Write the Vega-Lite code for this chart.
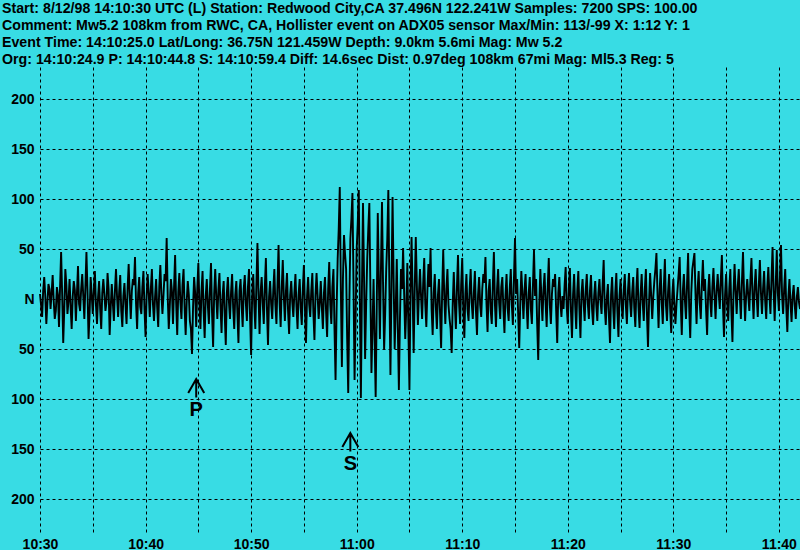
{
  "$schema": "https://vega.github.io/schema/vega-lite/v6.json",
  "autosize": "none",
  "width": 760,
  "height": 466,
  "padding": {"left": 40, "top": 67, "right": 0, "bottom": 17},
  "background": "#38DCE4",
  "view": {"stroke": null, "fill": "#38DCE4"},
  "title": {
    "text": [
      "Start: 8/12/98 14:10:30 UTC (L) Station: Redwood City,CA 37.496N 122.241W Samples: 7200  SPS: 100.00",
      "Comment: Mw5.2 108km from RWC, CA, Hollister event on ADX05 sensor  Max/Min: 113/-99 X: 1:12 Y: 1",
      "Event Time: 14:10:25.0 Lat/Long: 36.75N 121.459W Depth: 9.0km 5.6mi Mag: Mw 5.2",
      "Org: 14:10:24.9 P: 14:10:44.8 S: 14:10:59.4 Diff: 14.6sec Dist: 0.97deg 108km 67mi  Mag: Ml5.3 Reg: 5"
    ],
    "anchor": "start",
    "frame": "group",
    "dx": -38,
    "offset": 0,
    "font": "Liberation Sans",
    "fontSize": 14.2,
    "fontWeight": "bold",
    "lineHeight": 17,
    "color": "black"
  },
  "config": {
    "axis": {
      "grid": true,
      "gridColor": "black",
      "gridDash": [3, 3],
      "gridWidth": 1,
      "gridOpacity": 1,
      "domain": false,
      "ticks": false,
      "title": null,
      "labelFont": "Liberation Sans",
      "labelFontSize": 14,
      "labelFontWeight": "bold",
      "labelColor": "black",
      "labelOverlap": false,
      "labelFlush": false
    }
  },
  "datasets": {
    "trace": [
{"t":0,"v":5},{"t":0.1,"v":-6},{"t":0.2,"v":-18},{"t":0.3,"v":8},{"t":0.4,"v":22},{"t":0.5,"v":3},{"t":0.6,"v":-25},{"t":0.7,"v":-4},{"t":0.8,"v":15},{"t":0.9,"v":10},
{"t":1,"v":-10},{"t":1.1,"v":6},{"t":1.2,"v":24},{"t":1.3,"v":-2},{"t":1.4,"v":-20},{"t":1.5,"v":-12},{"t":1.6,"v":12},{"t":1.7,"v":4},{"t":1.8,"v":-28},{"t":1.9,"v":12},
{"t":2,"v":47},{"t":2.1,"v":5},{"t":2.2,"v":-44},{"t":2.3,"v":-10},{"t":2.4,"v":30},{"t":2.5,"v":14},{"t":2.6,"v":-15},{"t":2.7,"v":-2},{"t":2.8,"v":20},{"t":2.9,"v":-8},
{"t":3,"v":-30},{"t":3.1,"v":2},{"t":3.2,"v":18},{"t":3.3,"v":9},{"t":3.4,"v":-22},{"t":3.5,"v":6},{"t":3.6,"v":33},{"t":3.7,"v":-5},{"t":3.8,"v":-12},{"t":3.9,"v":10},
{"t":4,"v":25},{"t":4.1,"v":3},{"t":4.2,"v":-20},{"t":4.3,"v":12},{"t":4.4,"v":47},{"t":4.5,"v":8},{"t":4.6,"v":-40},{"t":4.7,"v":-14},{"t":4.8,"v":22},{"t":4.9,"v":4},
{"t":5,"v":-15},{"t":5.1,"v":8},{"t":5.2,"v":28},{"t":5.3,"v":-6},{"t":5.4,"v":-25},{"t":5.5,"v":2},{"t":5.6,"v":18},{"t":5.7,"v":-10},{"t":5.8,"v":-30},{"t":5.9,"v":6},
{"t":6,"v":20},{"t":6.1,"v":5},{"t":6.2,"v":-12},{"t":6.3,"v":-3},{"t":6.4,"v":26},{"t":6.5,"v":10},{"t":6.6,"v":-36},{"t":6.7,"v":-8},{"t":6.8,"v":15},{"t":6.9,"v":-4},
{"t":7,"v":-22},{"t":7.1,"v":9},{"t":7.2,"v":30},{"t":7.3,"v":2},{"t":7.4,"v":-18},{"t":7.5,"v":7},{"t":7.6,"v":24},{"t":7.7,"v":-12},{"t":7.8,"v":-28},{"t":7.9,"v":3},
{"t":8,"v":16},{"t":8.1,"v":-6},{"t":8.2,"v":-25},{"t":8.3,"v":11},{"t":8.4,"v":35},{"t":8.5,"v":4},{"t":8.6,"v":-20},{"t":8.7,"v":8},{"t":8.8,"v":20},{"t":8.9,"v":14},
{"t":9,"v":42},{"t":9.1,"v":-5},{"t":9.2,"v":-30},{"t":9.3,"v":6},{"t":9.4,"v":22},{"t":9.5,"v":-8},{"t":9.6,"v":-15},{"t":9.7,"v":12},{"t":9.8,"v":28},{"t":9.9,"v":-10},
{"t":10,"v":-38},{"t":10.1,"v":3},{"t":10.2,"v":25},{"t":10.3,"v":6},{"t":10.4,"v":-18},{"t":10.5,"v":10},{"t":10.6,"v":30},{"t":10.7,"v":-5},{"t":10.8,"v":-22},{"t":10.9,"v":2},
{"t":11,"v":20},{"t":11.1,"v":-8},{"t":11.2,"v":-28},{"t":11.3,"v":12},{"t":11.4,"v":34},{"t":11.5,"v":5},{"t":11.6,"v":-15},{"t":11.7,"v":4},{"t":11.8,"v":25},{"t":11.9,"v":18},
{"t":12,"v":61},{"t":12.1,"v":2},{"t":12.2,"v":-30},{"t":12.3,"v":-6},{"t":12.4,"v":20},{"t":12.5,"v":8},{"t":12.6,"v":-25},{"t":12.7,"v":12},{"t":12.8,"v":44},{"t":12.9,"v":-4},
{"t":13,"v":-36},{"t":13.1,"v":7},{"t":13.2,"v":26},{"t":13.3,"v":-3},{"t":13.4,"v":-20},{"t":13.5,"v":14},{"t":13.6,"v":30},{"t":13.7,"v":-9},{"t":13.8,"v":-36},{"t":13.9,"v":-2},
{"t":14,"v":18},{"t":14.1,"v":4},{"t":14.2,"v":-22},{"t":14.3,"v":-30},{"t":14.4,"v":-55},{"t":14.5,"v":-8},{"t":14.6,"v":22},{"t":14.7,"v":6},{"t":14.8,"v":-28},{"t":14.9,"v":10},
{"t":15,"v":36},{"t":15.1,"v":-4},{"t":15.2,"v":-30},{"t":15.3,"v":8},{"t":15.4,"v":28},{"t":15.5,"v":-12},{"t":15.6,"v":-39},{"t":15.7,"v":3},{"t":15.8,"v":20},{"t":15.9,"v":-6},
{"t":16,"v":-25},{"t":16.1,"v":10},{"t":16.2,"v":36},{"t":16.3,"v":-14},{"t":16.4,"v":-48},{"t":16.5,"v":5},{"t":16.6,"v":30},{"t":16.7,"v":2},{"t":16.8,"v":-20},{"t":16.9,"v":9},
{"t":17,"v":26},{"t":17.1,"v":-8},{"t":17.2,"v":-34},{"t":17.3,"v":4},{"t":17.4,"v":18},{"t":17.5,"v":-16},{"t":17.6,"v":-46},{"t":17.7,"v":6},{"t":17.8,"v":22},{"t":17.9,"v":-3},
{"t":18,"v":-20},{"t":18.1,"v":7},{"t":18.2,"v":25},{"t":18.3,"v":-9},{"t":18.4,"v":-30},{"t":18.5,"v":4},{"t":18.6,"v":18},{"t":18.7,"v":-14},{"t":18.8,"v":-44},{"t":18.9,"v":8},
{"t":19,"v":20},{"t":19.1,"v":-6},{"t":19.2,"v":-28},{"t":19.3,"v":10},{"t":19.4,"v":24},{"t":19.5,"v":-4},{"t":19.6,"v":-22},{"t":19.7,"v":12},{"t":19.8,"v":30},{"t":19.9,"v":-18},
{"t":20,"v":-56},{"t":20.1,"v":3},{"t":20.2,"v":25},{"t":20.3,"v":-6},{"t":20.4,"v":-30},{"t":20.5,"v":14},{"t":20.6,"v":56},{"t":20.7,"v":5},{"t":20.8,"v":-35},{"t":20.9,"v":7},
{"t":21,"v":22},{"t":21.1,"v":-4},{"t":21.2,"v":-25},{"t":21.3,"v":12},{"t":21.4,"v":41},{"t":21.5,"v":-10},{"t":21.6,"v":-46},{"t":21.7,"v":2},{"t":21.8,"v":18},{"t":21.9,"v":-5},
{"t":22,"v":-20},{"t":22.1,"v":9},{"t":22.2,"v":30},{"t":22.3,"v":-6},{"t":22.4,"v":-25},{"t":22.5,"v":15},{"t":22.6,"v":54},{"t":22.7,"v":-4},{"t":22.8,"v":-28},{"t":22.9,"v":11},
{"t":23,"v":39},{"t":23.1,"v":2},{"t":23.2,"v":-22},{"t":23.3,"v":8},{"t":23.4,"v":26},{"t":23.5,"v":-12},{"t":23.6,"v":-35},{"t":23.7,"v":4},{"t":23.8,"v":18},{"t":23.9,"v":-3},
{"t":24,"v":-18},{"t":24.1,"v":6},{"t":24.2,"v":25},{"t":24.3,"v":-8},{"t":24.4,"v":-30},{"t":24.5,"v":5},{"t":24.6,"v":20},{"t":24.7,"v":-9},{"t":24.8,"v":-26},{"t":24.9,"v":10},
{"t":25,"v":34},{"t":25.1,"v":-10},{"t":25.2,"v":-44},{"t":25.3,"v":3},{"t":25.4,"v":22},{"t":25.5,"v":-5},{"t":25.6,"v":-18},{"t":25.7,"v":8},{"t":25.8,"v":26},{"t":25.9,"v":-14},
{"t":26,"v":-41},{"t":26.1,"v":4},{"t":26.2,"v":26},{"t":26.3,"v":3},{"t":26.4,"v":-20},{"t":26.5,"v":-4},{"t":26.6,"v":18},{"t":26.7,"v":-8},{"t":26.8,"v":-30},{"t":26.9,"v":6},
{"t":27,"v":22},{"t":27.1,"v":-12},{"t":27.2,"v":-38},{"t":27.3,"v":10},{"t":27.4,"v":37},{"t":27.5,"v":-6},{"t":27.6,"v":-25},{"t":27.7,"v":12},{"t":27.8,"v":30},{"t":27.9,"v":-30},
{"t":28,"v":-81},{"t":28.1,"v":-10},{"t":28.2,"v":40},{"t":28.3,"v":70},{"t":28.4,"v":112},{"t":28.5,"v":10},{"t":28.6,"v":-68},{"t":28.7,"v":20},{"t":28.8,"v":64},{"t":28.9,"v":45},
{"t":29,"v":30},{"t":29.1,"v":-40},{"t":29.2,"v":-94},{"t":29.3,"v":-10},{"t":29.4,"v":60},{"t":29.5,"v":80},{"t":29.6,"v":106},{"t":29.7,"v":15},{"t":29.8,"v":-81},{"t":29.9,"v":-20},
{"t":30,"v":50},{"t":30.1,"v":75},{"t":30.2,"v":109},{"t":30.3,"v":0},{"t":30.4,"v":-99},{"t":30.5,"v":10},{"t":30.6,"v":96},{"t":30.7,"v":20},{"t":30.8,"v":-60},{"t":30.9,"v":-5},
{"t":31,"v":40},{"t":31.1,"v":70},{"t":31.2,"v":96},{"t":31.3,"v":10},{"t":31.4,"v":-74},{"t":31.5,"v":-30},{"t":31.6,"v":20},{"t":31.7,"v":-40},{"t":31.8,"v":-98},{"t":31.9,"v":-10},
{"t":32,"v":86},{"t":32.1,"v":20},{"t":32.2,"v":-40},{"t":32.3,"v":30},{"t":32.4,"v":97},{"t":32.5,"v":15},{"t":32.6,"v":-51},{"t":32.7,"v":-15},{"t":32.8,"v":30},{"t":32.9,"v":60},
{"t":33,"v":109},{"t":33.1,"v":10},{"t":33.2,"v":-76},{"t":33.3,"v":15},{"t":33.4,"v":102},{"t":33.5,"v":20},{"t":33.6,"v":-50},{"t":33.7,"v":-10},{"t":33.8,"v":40},{"t":33.9,"v":-30},
{"t":34,"v":-91},{"t":34.1,"v":-20},{"t":34.2,"v":30},{"t":34.3,"v":10},{"t":34.4,"v":51},{"t":34.5,"v":5},{"t":34.6,"v":-40},{"t":34.7,"v":-10},{"t":34.8,"v":36},{"t":34.9,"v":-30},
{"t":35,"v":-91},{"t":35.1,"v":10},{"t":35.2,"v":62},{"t":35.3,"v":5},{"t":35.4,"v":-54},{"t":35.5,"v":10},{"t":35.6,"v":62},{"t":35.7,"v":15},{"t":35.8,"v":-26},{"t":35.9,"v":5},
{"t":36,"v":30},{"t":36.1,"v":2},{"t":36.2,"v":-20},{"t":36.3,"v":15},{"t":36.4,"v":41},{"t":36.5,"v":-5},{"t":36.6,"v":-28},{"t":36.7,"v":8},{"t":36.8,"v":35},{"t":36.9,"v":12},
{"t":37,"v":51},{"t":37.1,"v":-10},{"t":37.2,"v":-36},{"t":37.3,"v":6},{"t":37.4,"v":25},{"t":37.5,"v":-8},{"t":37.6,"v":-30},{"t":37.7,"v":4},{"t":37.8,"v":20},{"t":37.9,"v":-15},
{"t":38,"v":-49},{"t":38.1,"v":8},{"t":38.2,"v":49},{"t":38.3,"v":3},{"t":38.4,"v":-25},{"t":38.5,"v":10},{"t":38.6,"v":30},{"t":38.7,"v":-6},{"t":38.8,"v":-20},{"t":38.9,"v":-30},
{"t":39,"v":-54},{"t":39.1,"v":-5},{"t":39.2,"v":27},{"t":39.3,"v":-6},{"t":39.4,"v":-30},{"t":39.5,"v":12},{"t":39.6,"v":44},{"t":39.7,"v":-4},{"t":39.8,"v":-25},{"t":39.9,"v":14},
{"t":40,"v":41},{"t":40.1,"v":-8},{"t":40.2,"v":-39},{"t":40.3,"v":5},{"t":40.4,"v":25},{"t":40.5,"v":-10},{"t":40.6,"v":-22},{"t":40.7,"v":9},{"t":40.8,"v":30},{"t":40.9,"v":-4},
{"t":41,"v":-20},{"t":41.1,"v":6},{"t":41.2,"v":28},{"t":41.3,"v":-12},{"t":41.4,"v":-36},{"t":41.5,"v":4},{"t":41.6,"v":22},{"t":41.7,"v":-6},{"t":41.8,"v":-18},{"t":41.9,"v":10},
{"t":42,"v":25},{"t":42.1,"v":16},{"t":42.2,"v":42},{"t":42.3,"v":-5},{"t":42.4,"v":-33},{"t":42.5,"v":8},{"t":42.6,"v":20},{"t":42.7,"v":-12},{"t":42.8,"v":-25},{"t":42.9,"v":14},
{"t":43,"v":47},{"t":43.1,"v":-6},{"t":43.2,"v":-28},{"t":43.3,"v":10},{"t":43.4,"v":30},{"t":43.5,"v":-4},{"t":43.6,"v":-20},{"t":43.7,"v":12},{"t":43.8,"v":22},{"t":43.9,"v":-10},
{"t":44,"v":-34},{"t":44.1,"v":4},{"t":44.2,"v":25},{"t":44.3,"v":-9},{"t":44.4,"v":-22},{"t":44.5,"v":10},{"t":44.6,"v":30},{"t":44.7,"v":-6},{"t":44.8,"v":-26},{"t":44.9,"v":20},
{"t":45,"v":61},{"t":45.1,"v":5},{"t":45.2,"v":20},{"t":45.3,"v":-15},{"t":45.4,"v":-49},{"t":45.5,"v":-4},{"t":45.6,"v":28},{"t":45.7,"v":6},{"t":45.8,"v":-20},{"t":45.9,"v":8},
{"t":46,"v":25},{"t":46.1,"v":-5},{"t":46.2,"v":-30},{"t":46.3,"v":6},{"t":46.4,"v":22},{"t":46.5,"v":-10},{"t":46.6,"v":-25},{"t":46.7,"v":14},{"t":46.8,"v":49},{"t":46.9,"v":3},
{"t":47,"v":20},{"t":47.1,"v":-25},{"t":47.2,"v":-61},{"t":47.3,"v":-5},{"t":47.4,"v":30},{"t":47.5,"v":2},{"t":47.6,"v":-22},{"t":47.7,"v":10},{"t":47.8,"v":26},{"t":47.9,"v":-4},
{"t":48,"v":-28},{"t":48.1,"v":12},{"t":48.2,"v":41},{"t":48.3,"v":-6},{"t":48.4,"v":-25},{"t":48.5,"v":5},{"t":48.6,"v":20},{"t":48.7,"v":12},{"t":48.8,"v":25},{"t":48.9,"v":-12},
{"t":49,"v":-44},{"t":49.1,"v":6},{"t":49.2,"v":22},{"t":49.3,"v":-4},{"t":49.4,"v":-18},{"t":49.5,"v":3},{"t":49.6,"v":-10},{"t":49.7,"v":14},{"t":49.8,"v":32},{"t":49.9,"v":-8},
{"t":50,"v":-25},{"t":50.1,"v":10},{"t":50.2,"v":31},{"t":50.3,"v":-12},{"t":50.4,"v":-39},{"t":50.5,"v":4},{"t":50.6,"v":25},{"t":50.7,"v":-6},{"t":50.8,"v":-30},{"t":50.9,"v":8},
{"t":51,"v":28},{"t":51.1,"v":-10},{"t":51.2,"v":-39},{"t":51.3,"v":5},{"t":51.4,"v":20},{"t":51.5,"v":-4},{"t":51.6,"v":-22},{"t":51.7,"v":9},{"t":51.8,"v":25},{"t":51.9,"v":-5},
{"t":52,"v":-20},{"t":52.1,"v":8},{"t":52.2,"v":24},{"t":52.3,"v":-10},{"t":52.4,"v":-26},{"t":52.5,"v":3},{"t":52.6,"v":18},{"t":52.7,"v":-6},{"t":52.8,"v":-22},{"t":52.9,"v":6},
{"t":53,"v":20},{"t":53.1,"v":-2},{"t":53.2,"v":-15},{"t":53.3,"v":14},{"t":53.4,"v":39},{"t":53.5,"v":-8},{"t":53.6,"v":-26},{"t":53.7,"v":2},{"t":53.8,"v":15},{"t":53.9,"v":-18},
{"t":54,"v":-44},{"t":54.1,"v":4},{"t":54.2,"v":22},{"t":54.3,"v":-8},{"t":54.4,"v":-30},{"t":54.5,"v":6},{"t":54.6,"v":26},{"t":54.7,"v":-12},{"t":54.8,"v":-38},{"t":54.9,"v":3},
{"t":55,"v":20},{"t":55.1,"v":-5},{"t":55.2,"v":-20},{"t":55.3,"v":9},{"t":55.4,"v":25},{"t":55.5,"v":-6},{"t":55.6,"v":-25},{"t":55.7,"v":8},{"t":55.8,"v":26},{"t":55.9,"v":-2},
{"t":56,"v":-18},{"t":56.1,"v":6},{"t":56.2,"v":22},{"t":56.3,"v":-9},{"t":56.4,"v":-28},{"t":56.5,"v":10},{"t":56.6,"v":31},{"t":56.7,"v":-8},{"t":56.8,"v":-29},{"t":56.9,"v":5},
{"t":57,"v":25},{"t":57.1,"v":-4},{"t":57.2,"v":-22},{"t":57.3,"v":10},{"t":57.4,"v":30},{"t":57.5,"v":-15},{"t":57.6,"v":-48},{"t":57.7,"v":-3},{"t":57.8,"v":26},{"t":57.9,"v":4},
{"t":58,"v":-20},{"t":58.1,"v":2},{"t":58.2,"v":18},{"t":58.3,"v":30},{"t":58.4,"v":46},{"t":58.5,"v":5},{"t":58.6,"v":-29},{"t":58.7,"v":8},{"t":58.8,"v":30},{"t":58.9,"v":-4},
{"t":59,"v":-25},{"t":59.1,"v":12},{"t":59.2,"v":40},{"t":59.3,"v":-6},{"t":59.4,"v":-22},{"t":59.5,"v":7},{"t":59.6,"v":25},{"t":59.7,"v":-10},{"t":59.8,"v":-34},{"t":59.9,"v":3},
{"t":60,"v":20},{"t":60.1,"v":-6},{"t":60.2,"v":-25},{"t":60.3,"v":-5},{"t":60.4,"v":10},{"t":60.5,"v":25},{"t":60.6,"v":42},{"t":60.7,"v":-4},{"t":60.8,"v":-36},{"t":60.9,"v":8},
{"t":61,"v":25},{"t":61.1,"v":-2},{"t":61.2,"v":-20},{"t":61.3,"v":16},{"t":61.4,"v":46},{"t":61.5,"v":-8},{"t":61.6,"v":-39},{"t":61.7,"v":6},{"t":61.8,"v":30},{"t":61.9,"v":38},
{"t":62,"v":46},{"t":62.1,"v":5},{"t":62.2,"v":-25},{"t":62.3,"v":10},{"t":62.4,"v":28},{"t":62.5,"v":-4},{"t":62.6,"v":-20},{"t":62.7,"v":14},{"t":62.8,"v":39},{"t":62.9,"v":8},
{"t":63,"v":20},{"t":63.1,"v":-10},{"t":63.2,"v":-36},{"t":63.3,"v":6},{"t":63.4,"v":25},{"t":63.5,"v":-2},{"t":63.6,"v":-18},{"t":63.7,"v":12},{"t":63.8,"v":31},{"t":63.9,"v":4},
{"t":64,"v":-20},{"t":64.1,"v":8},{"t":64.2,"v":25},{"t":64.3,"v":6},{"t":64.4,"v":-10},{"t":64.5,"v":20},{"t":64.6,"v":44},{"t":64.7,"v":-6},{"t":64.8,"v":-38},{"t":64.9,"v":4},
{"t":65,"v":25},{"t":65.1,"v":-3},{"t":65.2,"v":-22},{"t":65.3,"v":10},{"t":65.4,"v":30},{"t":65.5,"v":-12},{"t":65.6,"v":-43},{"t":65.7,"v":6},{"t":65.8,"v":35},{"t":65.9,"v":8},
{"t":66,"v":-15},{"t":66.1,"v":12},{"t":66.2,"v":30},{"t":66.3,"v":2},{"t":66.4,"v":-20},{"t":66.5,"v":18},{"t":66.6,"v":47},{"t":66.7,"v":6},{"t":66.8,"v":-22},{"t":66.9,"v":4},
{"t":67,"v":20},{"t":67.1,"v":3},{"t":67.2,"v":-12},{"t":67.3,"v":18},{"t":67.4,"v":41},{"t":67.5,"v":5},{"t":67.6,"v":-20},{"t":67.7,"v":12},{"t":67.8,"v":30},{"t":67.9,"v":2},
{"t":68,"v":-18},{"t":68.1,"v":14},{"t":68.2,"v":39},{"t":68.3,"v":6},{"t":68.4,"v":-15},{"t":68.5,"v":10},{"t":68.6,"v":28},{"t":68.7,"v":-2},{"t":68.8,"v":-20},{"t":68.9,"v":12},
{"t":69,"v":32},{"t":69.1,"v":4},{"t":69.2,"v":-15},{"t":69.3,"v":20},{"t":69.4,"v":52},{"t":69.5,"v":8},{"t":69.6,"v":-22},{"t":69.7,"v":14},{"t":69.8,"v":49},{"t":69.9,"v":6},
{"t":70,"v":-12},{"t":70.1,"v":22},{"t":70.2,"v":54},{"t":70.3,"v":4},{"t":70.4,"v":-15},{"t":70.5,"v":10},{"t":70.6,"v":30},{"t":70.7,"v":-8},{"t":70.8,"v":-33},{"t":70.9,"v":2},
{"t":71,"v":20},{"t":71.1,"v":-4},{"t":71.2,"v":-23},{"t":71.3,"v":3},{"t":71.4,"v":14},{"t":71.5,"v":-6},{"t":71.6,"v":-20},{"t":71.7,"v":2},{"t":71.8,"v":12},{"t":71.9,"v":-3},
{"t":72,"v":-10}
    ],
    "phases": [
      {"t": 14.8, "tip": -80, "label": "P"},
      {"t": 29.4, "tip": -134, "label": "S"}
    ]
  },
  "layer": [
    {
      "data": {"name": "trace"},
      "mark": {"type": "line", "color": "black", "strokeWidth": 1.9},
      "encoding": {
        "x": {
          "field": "t",
          "type": "quantitative",
          "scale": {"domain": [0, 72], "nice": false, "zero": false},
          "axis": {
            "values": [0, 5, 10, 15, 20, 25, 30, 35, 40, 45, 50, 55, 60, 65, 70],
            "labelPadding": 4,
            "labelExpr": "datum.value % 10 == 0 ? (10 + floor((30 + datum.value) / 60)) + ':' + (((30 + datum.value) % 60) < 10 ? '0' : '') + ((30 + datum.value) % 60) : ''"
          }
        },
        "y": {
          "field": "v",
          "type": "quantitative",
          "scale": {"domain": [-234, 232], "nice": false, "zero": false},
          "axis": {
            "values": [-200, -150, -100, -50, 0, 50, 100, 150, 200],
            "labelPadding": 6,
            "labelExpr": "datum.value == 0 ? 'N' : '' + abs(datum.value)"
          }
        }
      }
    },
    {
      "data": {"name": "phases"},
      "mark": {
        "type": "point",
        "shape": "M-1,1.75L0,0L1,1.75M0,0L0,2.3",
        "size": 256,
        "filled": false,
        "stroke": "black",
        "strokeWidth": 2,
        "opacity": 1
      },
      "encoding": {
        "x": {"field": "t", "type": "quantitative"},
        "y": {"field": "tip", "type": "quantitative"}
      }
    },
    {
      "data": {"name": "phases"},
      "mark": {
        "type": "text",
        "dy": 31,
        "baseline": "middle",
        "align": "center",
        "font": "Liberation Sans",
        "fontSize": 20,
        "fontWeight": "bold",
        "color": "black"
      },
      "encoding": {
        "x": {"field": "t", "type": "quantitative"},
        "y": {"field": "tip", "type": "quantitative"},
        "text": {"field": "label"}
      }
    }
  ]
}
